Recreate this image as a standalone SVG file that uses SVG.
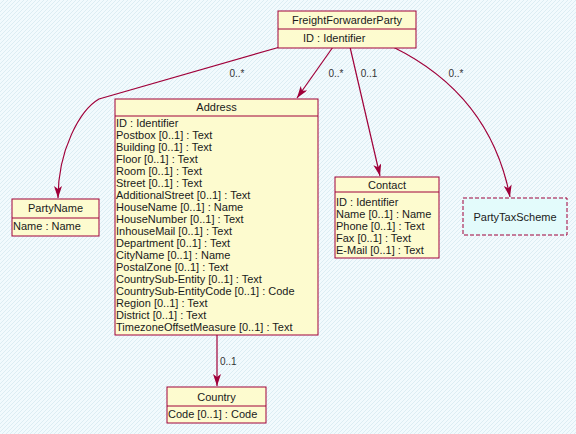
<svg xmlns="http://www.w3.org/2000/svg" width="576" height="434" viewBox="0 0 576 434">
<style>
.box{fill:#fdfbcf;stroke:#a0003a;stroke-width:1}
.dbox{fill:#e3fbfb;stroke:#a0003a;stroke-width:1;stroke-dasharray:4,2}
.div{stroke:#a0003a;stroke-width:1}
.t{font-family:"Liberation Sans",Arial,sans-serif;font-size:11px;fill:#1a1a1a}
.c{text-anchor:middle}
.lbl{font-family:"Liberation Sans",Arial,sans-serif;font-size:10px;fill:#333}
.edge{fill:none;stroke:#a0003a;stroke-width:1.2}
</style>
<defs>
<pattern id="bg" width="4" height="4" patternUnits="userSpaceOnUse">
<rect width="4" height="4" fill="#f2fafd"/>
<path d="M0,4 L4,0" stroke="#dcedf3" stroke-width="1"/>
</pattern>
<marker id="arr" markerWidth="14" markerHeight="10" refX="12" refY="4" orient="auto" markerUnits="userSpaceOnUse">
<path d="M0,0 L12,4 L0,8 L3,4 z" fill="#a0003a"/>
</marker>
</defs>
<rect width="576" height="434" fill="url(#bg)"/>
<g id="connectors">
<path class="edge" d="M280,47 L99,99 C80,110 58,150 58,198" marker-end="url(#arr)"/>
<path class="edge" d="M333,47 L297,98" marker-end="url(#arr)"/>
<path class="edge" d="M350,47 L380,176" marker-end="url(#arr)"/>
<path class="edge" d="M393,47 C450,75 495,120 510,197" marker-end="url(#arr)"/>
<path class="edge" d="M217,335 L217,386" marker-end="url(#arr)"/>
<text class="lbl c" x="237" y="77">0..*</text>
<text class="lbl c" x="336" y="77">0..*</text>
<text class="lbl c" x="369" y="77">0..1</text>
<text class="lbl c" x="456" y="77">0..*</text>
<text class="lbl" x="220" y="365">0..1</text>
</g>
<g id="FreightForwarderParty">
<rect class="box" x="278" y="11" width="138" height="37"/>
<line class="div" x1="278" y1="29" x2="416" y2="29"/>
<text class="t c" x="347" y="24">FreightForwarderParty</text>
<text class="t" x="303" y="42">ID : Identifier</text>
</g>
<g id="Address">
<rect class="box" x="115" y="99" width="203" height="236"/>
<line class="div" x1="115" y1="116" x2="318" y2="116"/>
<text class="t c" x="216.5" y="111">Address</text>
<text class="t" x="116" y="127">ID : Identifier</text>
<text class="t" x="116" y="139">Postbox [0..1] : Text</text>
<text class="t" x="116" y="151">Building [0..1] : Text</text>
<text class="t" x="116" y="163">Floor [0..1] : Text</text>
<text class="t" x="116" y="175">Room [0..1] : Text</text>
<text class="t" x="116" y="187">Street [0..1] : Text</text>
<text class="t" x="116" y="199">AdditionalStreet [0..1] : Text</text>
<text class="t" x="116" y="211">HouseName [0..1] : Name</text>
<text class="t" x="116" y="223">HouseNumber [0..1] : Text</text>
<text class="t" x="116" y="235">InhouseMail [0..1] : Text</text>
<text class="t" x="116" y="247">Department [0..1] : Text</text>
<text class="t" x="116" y="259">CityName [0..1] : Name</text>
<text class="t" x="116" y="271">PostalZone [0..1] : Text</text>
<text class="t" x="116" y="283">CountrySub-Entity [0..1] : Text</text>
<text class="t" x="116" y="295">CountrySub-EntityCode [0..1] : Code</text>
<text class="t" x="116" y="307">Region [0..1] : Text</text>
<text class="t" x="116" y="319">District [0..1] : Text</text>
<text class="t" x="116" y="331">TimezoneOffsetMeasure [0..1] : Text</text>
</g>
<g id="PartyName">
<rect class="box" x="12" y="199" width="87" height="37"/>
<line class="div" x1="12" y1="218" x2="99" y2="218"/>
<text class="t c" x="55.5" y="212">PartyName</text>
<text class="t" x="13" y="230">Name : Name</text>
</g>
<g id="Contact">
<rect class="box" x="335" y="177" width="104" height="81"/>
<line class="div" x1="335" y1="192" x2="439" y2="192"/>
<text class="t c" x="387" y="189">Contact</text>
<text class="t" x="336" y="206">ID : Identifier</text>
<text class="t" x="336" y="218">Name [0..1] : Name</text>
<text class="t" x="336" y="230">Phone [0..1] : Text</text>
<text class="t" x="336" y="242">Fax [0..1] : Text</text>
<text class="t" x="336" y="254">E-Mail [0..1] : Text</text>
</g>
<g id="PartyTaxScheme">
<rect class="dbox" x="463" y="198" width="104" height="37"/>
<text class="t c" x="515" y="221">PartyTaxScheme</text>
</g>
<g id="Country">
<rect class="box" x="167" y="387" width="99" height="36"/>
<line class="div" x1="167" y1="406" x2="266" y2="406"/>
<text class="t c" x="216.5" y="401">Country</text>
<text class="t" x="168" y="418">Code [0..1] : Code</text>
</g>
</svg>
